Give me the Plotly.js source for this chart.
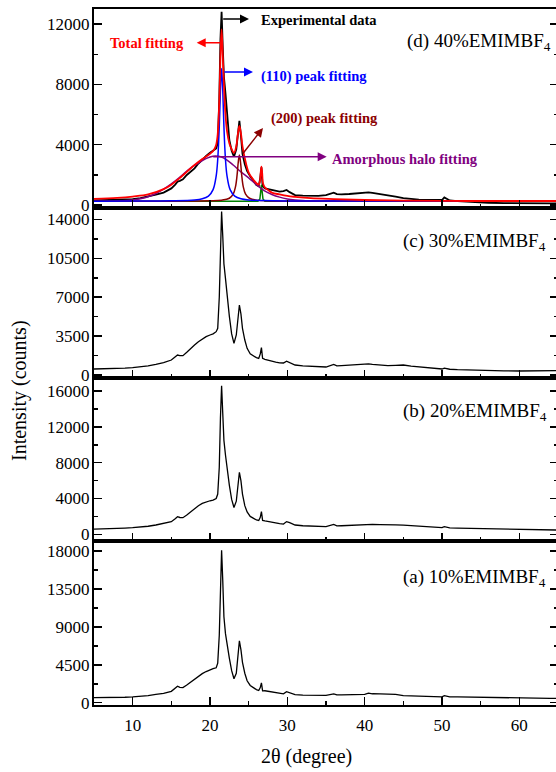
<!DOCTYPE html>
<html><head><meta charset="utf-8">
<script src="https://cdn.plot.ly/plotly-3.0.1.min.js"></script>
<style>html,body{margin:0;padding:0;overflow:hidden;background:#fff}#chart{width:560px;height:772px}</style>
</head><body><div id="chart"></div>
<script>
// Shared 2θ grid for the measured patterns
const twoTheta = [5, 6, 7, 8, 9, 10, 11, 12, 13, 14, 15, 15.5, 15.8, 16.1, 16.5, 17, 17.5, 18, 18.5, 19, 19.5, 20, 20.4, 20.8, 21.0, 21.2, 21.35, 21.5, 21.65, 21.8, 22.0, 22.2, 22.5, 22.8, 23.1, 23.4, 23.6, 23.8, 24.0, 24.2, 24.5, 24.8, 25.2, 25.6, 26.0, 26.3, 26.5, 26.65, 26.8, 27.1, 27.5, 28, 28.5, 29, 29.5, 29.9, 30.3, 31, 32, 33, 34, 35, 36, 36.4, 37, 38, 39, 40, 40.5, 41, 42, 43, 44, 45, 46, 47, 48, 49, 50, 50.3, 51, 52, 54, 56, 58, 60, 62, 64, 65];

const int10 = [600, 590, 600, 620, 650, 700, 760, 850, 980, 1100, 1350, 1700, 1950, 1820, 1800, 2100, 2450, 2850, 3150, 3450, 3700, 3950, 4050, 4150, 4700, 8000, 14000, 18100, 14500, 10200, 8200, 6900, 5300, 3800, 2850, 3500, 5600, 7350, 6300, 4800, 3500, 2600, 2050, 1750, 1550, 1450, 1800, 2350, 1400, 1420, 1350, 1250, 1150, 1100, 1050, 1300, 1200, 960, 900, 880, 870, 870, 1050, 920, 930, 960, 980, 1000, 1130, 1060, 1040, 1010, 990, 840, 810, 790, 770, 750, 700, 830, 700, 680, 640, 610, 580, 560, 540, 520, 520];

const int20 = [590, 600, 620, 650, 700, 740, 800, 900, 1040, 1200, 1410, 1750, 1970, 1880, 1860, 2150, 2500, 2900, 3200, 3450, 3620, 3750, 3830, 4000, 4500, 7500, 13000, 16600, 13500, 10500, 8860, 7300, 5500, 3900, 3000, 3700, 5500, 6930, 6000, 4500, 3200, 2500, 2000, 1750, 1600, 1550, 1900, 2530, 1550, 1490, 1420, 1300, 1250, 1200, 1150, 1420, 1300, 1040, 960, 900, 880, 860, 1110, 950, 960, 1000, 1020, 1050, 1150, 1100, 1080, 1110, 1060, 1030, 960, 900, 850, 800, 740, 850, 720, 700, 660, 620, 590, 560, 520, 490, 480];

const int30 = [540, 550, 560, 590, 620, 660, 720, 820, 960, 1120, 1350, 1650, 1800, 1750, 1740, 2050, 2400, 2700, 3000, 3250, 3450, 3600, 3700, 3900, 4200, 7000, 12000, 14700, 12500, 10000, 8700, 7200, 5300, 3700, 2850, 3600, 5200, 6300, 5500, 4200, 3150, 2400, 1900, 1700, 1560, 1500, 1900, 2460, 1500, 1410, 1330, 1200, 1150, 1100, 1080, 1250, 1100, 900, 820, 780, 750, 720, 960, 820, 840, 880, 920, 960, 1000, 950, 900, 840, 870, 900, 800, 720, 650, 600, 540, 620, 520, 480, 430, 400, 380, 360, 380, 390, 390];

const int40 = [300, 310, 330, 340, 360, 380, 450, 550, 680, 820, 1100, 1350, 1550, 1600, 1700, 1990, 2200, 2430, 2750, 3030, 3250, 3470, 3600, 3750, 4100, 7000, 11000, 12820, 10500, 8500, 7400, 6000, 4310, 3600, 3200, 3700, 4800, 5590, 4600, 3400, 2700, 2250, 1900, 1600, 1330, 1250, 1800, 2500, 1250, 1100, 1050, 1000, 950, 890, 920, 1000, 850, 660, 620, 600, 610, 660, 820, 720, 700, 730, 780, 860, 840, 800, 730, 650, 550, 450, 380, 350, 330, 320, 330, 500, 300, 250, 180, 150, 130, 110, 110, 110, 110];

// Fits for the 40% sample
const totalX = [5, 8, 10, 12, 14, 15, 16, 17, 18, 19, 20, 20.5, 20.8, 21.0, 21.2, 21.35, 21.5, 21.65, 21.8, 22.0, 22.2, 22.5, 22.8, 23.1, 23.4, 23.6, 23.8, 24.0, 24.2, 24.5, 25, 25.5, 26, 26.3, 26.45, 26.55, 26.65, 26.75, 26.85, 27.1, 27.5, 28, 29, 30, 31, 33, 36, 40, 45, 50, 55, 60, 65];
const totalY = [400, 470, 560, 700, 1050, 1350, 1750, 2200, 2650, 3050, 3400, 3650, 4000, 4700, 6900, 9800, 11650, 9900, 8000, 6000, 4900, 4100, 3700, 3450, 3900, 4700, 5240, 4750, 3900, 3100, 2150, 1750, 1450, 1350, 1550, 2100, 2540, 2100, 1450, 1150, 1000, 820, 700, 600, 540, 450, 390, 330, 290, 270, 265, 265, 265];

const peak110X = [5, 10, 15, 18, 19, 19.8, 20.4, 20.8, 21.0, 21.2, 21.35, 21.5, 21.65, 21.8, 22.0, 22.2, 22.6, 23.2, 24, 25, 27, 30, 40, 65];
const peak110Y = [250, 258, 275, 330, 410, 590, 1020, 1930, 3030, 5200, 7600, 9050, 7600, 5200, 3030, 1930, 1020, 590, 410, 330, 290, 270, 258, 252];

const peak200X = [5, 15, 20, 21.5, 22.5, 23.0, 23.3, 23.5, 23.65, 23.8, 23.95, 24.1, 24.3, 24.6, 25.1, 26, 28, 35, 65];
const peak200Y = [250, 255, 274, 316, 447, 720, 1220, 1977, 2820, 3320, 2820, 1977, 1220, 720, 447, 322, 270, 253, 250];

const haloX = [5, 8, 10, 11, 12, 13, 14, 15, 16, 17, 18, 19, 20, 20.7, 21.5, 22.2, 23, 24, 25, 26, 27, 28, 29, 30, 31, 32, 34, 40, 65];
const haloY = [250, 270, 330, 420, 550, 760, 1050, 1400, 1800, 2250, 2620, 2950, 3180, 3250, 3180, 2980, 2650, 2200, 1800, 1350, 950, 700, 520, 400, 330, 290, 260, 250, 250];

const smallX = [5, 26.2, 26.45, 26.55, 26.65, 26.75, 26.85, 27.1, 65];
const smallY = [250, 255, 400, 850, 1330, 850, 400, 255, 250];

const panelLabels = ['(a) 10%EMIMBF<sub>4</sub>', '(b) 20%EMIMBF<sub>4</sub>', '(c) 30%EMIMBF<sub>4</sub>', '(d) 40%EMIMBF<sub>4</sub>'];
const fitLabels = ['Experimental data', 'Total fitting', '(110) peak fitting', '(200) peak fitting', 'Amorphous halo fitting'];
const xTitle = '2θ (degree)';
const yTitle = 'Intensity (counts)';

const FONT = 'Liberation Serif, Times New Roman, serif';
const RED = '#ff0000', BLUE = '#0000ff', DRED = '#8b0000', PURPLE = '#800080', GREEN = '#008000';

const traces = [
  {x: twoTheta, y: int10, xaxis: 'x', yaxis: 'y', mode: 'lines', line: {color: 'black', width: 1.3}},
  {x: twoTheta, y: int20, xaxis: 'x2', yaxis: 'y2', mode: 'lines', line: {color: 'black', width: 1.3}},
  {x: twoTheta, y: int30, xaxis: 'x3', yaxis: 'y3', mode: 'lines', line: {color: 'black', width: 1.3}},
  {x: twoTheta, y: int40, xaxis: 'x4', yaxis: 'y4', mode: 'lines', line: {color: 'black', width: 1.8}},
  {x: smallX, y: smallY, xaxis: 'x4', yaxis: 'y4', mode: 'lines', line: {color: GREEN, width: 1.5}},
  {x: haloX, y: haloY, xaxis: 'x4', yaxis: 'y4', mode: 'lines', line: {color: PURPLE, width: 1.5, shape: 'spline'}},
  {x: peak200X, y: peak200Y, xaxis: 'x4', yaxis: 'y4', mode: 'lines', line: {color: DRED, width: 1.5, shape: 'spline'}},
  {x: peak110X, y: peak110Y, xaxis: 'x4', yaxis: 'y4', mode: 'lines', line: {color: BLUE, width: 1.5, shape: 'spline'}},
  {x: totalX, y: totalY, xaxis: 'x4', yaxis: 'y4', mode: 'lines', line: {color: RED, width: 1.8, shape: 'spline'}}
];

function xAx(anchor, labels) {
  return {range: [5, 65], anchor: anchor, showline: true, linewidth: 2, linecolor: 'black', mirror: true,
    ticks: 'inside', ticklen: 8, tickwidth: 1.5, tickcolor: 'black', tick0: 0, dtick: 10,
    showticklabels: labels, showgrid: false, zeroline: false, ticklabelstandoff: 4,
    tickfont: {family: FONT, size: 17, color: 'black'},
    minor: {dtick: 5, ticklen: 4, ticks: 'inside', tickwidth: 1.5, tickcolor: 'black', showgrid: false}};
}
function yAx(anchor, domain, range, dt) {
  return {domain: domain, range: range, anchor: anchor, showline: true, linewidth: 2, linecolor: 'black', mirror: 'ticks',
    ticks: 'inside', ticklen: 8, tickwidth: 1.5, tickcolor: 'black', tick0: 0, dtick: dt, tickformat: 'd',
    showgrid: false, zeroline: false, ticklabelstandoff: -1,
    tickfont: {family: FONT, size: 17, color: 'black'},
    minor: {dtick: dt / 2, ticklen: 4, ticks: 'inside', tickwidth: 1.5, tickcolor: 'black', showgrid: false}};
}

function arrow(x, y, ax, ay, color) {
  return {xref: 'x4', yref: 'y4', axref: 'x4', ayref: 'y4', x: x, y: y, ax: ax, ay: ay, text: '',
    showarrow: true, arrowhead: 2, arrowsize: 1.2, arrowwidth: 1.5, arrowcolor: color};
}
function fitText(t, x, y, color) {
  return {xref: 'x4', yref: 'y4', x: x, y: y, text: '<b>' + t + '</b>', showarrow: false,
    xanchor: 'left', yanchor: 'middle', font: {family: FONT, size: 14.5, color: color}};
}
function panelText(t, x, y) {
  return {xref: 'paper', yref: 'paper', x: x, y: y, text: t, showarrow: false, xanchor: 'left', yanchor: 'middle',
    font: {family: FONT, size: 19, color: 'black'}};
}

const annotations = [
  panelText(panelLabels[0], 0.6616, 0.1825),
  panelText(panelLabels[1], 0.6616, 0.4214),
  panelText(panelLabels[2], 0.6616, 0.6657),
  panelText(panelLabels[3], 0.670, 0.953),
  arrow(25.04, 12338, 21.51, 12338, 'black'),
  arrow(18.28, 10766, 21.51, 10766, RED),
  arrow(25.56, 8823, 21.68, 8823, BLUE),
  arrow(26.85, 5108, 24.10, 3317, DRED),
  arrow(35.09, 3204, 20.22, 3204, PURPLE),
  fitText(fitLabels[0], 26.34, 12272, 'black'),
  fitText(fitLabels[1], 6.81, 10766, RED),
  fitText(fitLabels[2], 26.34, 8511, BLUE),
  fitText(fitLabels[3], 27.63, 5705, DRED),
  fitText(fitLabels[4], 35.52, 3051, PURPLE),
  {xref: 'paper', yref: 'paper', x: -0.1595, y: 0.4526, text: yTitle, textangle: -90, showarrow: false,
    xanchor: 'center', yanchor: 'middle', font: {family: FONT, size: 20, color: 'black'}},
  {xref: 'paper', yref: 'paper', x: 0.457, y: -0.0733, text: xTitle, showarrow: false,
    xanchor: 'center', yanchor: 'middle', font: {family: FONT, size: 20, color: 'black'}}
];

const layout = {
  width: 560, height: 772,
  margin: {l: 94, r: 2, t: 9, b: 67},
  paper_bgcolor: 'white', plot_bgcolor: 'white',
  showlegend: false,
  font: {family: FONT, color: 'black'},
  xaxis: xAx('y', true),
  xaxis2: xAx('y2', false),
  xaxis3: xAx('y3', false),
  xaxis4: xAx('y4', false),
  yaxis: yAx('x', [0, 0.2356], [-273, 19200], 4500),
  yaxis2: yAx('x2', [0.2356, 0.4698], [-749, 17464], 4000),
  yaxis3: yAx('x3', [0.4698, 0.7141], [-270, 15026], 3500),
  yaxis4: yAx('x4', [0.7141, 1], [-199, 13002], 4000),
  annotations: annotations
};

Plotly.newPlot('chart', traces, layout, {displayModeBar: false, staticPlot: true});
</script></body></html>
